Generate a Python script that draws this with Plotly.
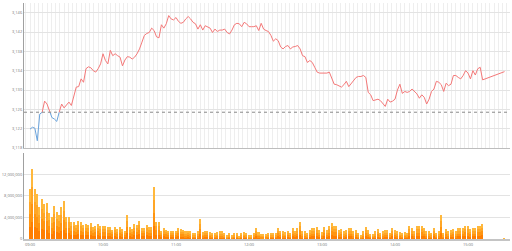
import pandas as pd
import plotly.graph_objects as go

# ---------------- data ----------------
prev_close = 3125.4

price = [
    3121.9, 3122.3, 3122.1, 3119.5, 3125.0, 3125.4, 3127.7, 3127.1, 3125.7, 3124.3,
    3124.0, 3123.5, 3125.4, 3127.1, 3126.3, 3126.8, 3127.5, 3126.8, 3128.5, 3130.6,
    3130.7, 3132.3, 3131.6, 3134.4, 3134.8, 3134.6, 3134.0, 3133.7, 3134.4, 3135.4,
    3137.5, 3136.1, 3135.4, 3138.2, 3137.1, 3137.5, 3137.1, 3136.8, 3135.0, 3136.2,
    3136.9, 3136.8, 3136.4, 3136.8, 3137.5, 3138.5, 3139.9, 3141.3, 3141.7, 3141.9,
    3142.8, 3142.3, 3141.0, 3140.8, 3143.5, 3142.8, 3143.7, 3145.4, 3144.7, 3144.5,
    3145.0, 3144.2, 3143.8, 3144.0, 3144.7,
    3145.2, 3144.7, 3144.0, 3143.7, 3142.6, 3143.5, 3142.4, 3143.3, 3143.1, 3142.8,
    3141.9, 3142.6, 3142.1, 3142.4, 3142.4, 3142.6, 3141.9, 3141.6, 3142.4, 3143.5,
    3143.8, 3143.7, 3143.1, 3144.0, 3143.7, 3143.1, 3143.1, 3143.1, 3143.3, 3142.3,
    3143.8, 3142.6, 3142.3, 3142.1, 3141.3, 3140.1, 3140.6, 3140.2, 3138.9, 3138.5,
    3139.0, 3139.2, 3138.5, 3138.9, 3139.0, 3139.2, 3138.5, 3137.1, 3136.9, 3135.7,
    3136.1, 3135.7, 3134.7, 3133.7, 3133.5, 3133.5, 3133.5, 3133.5, 3133.7, 3132.6,
    3131.2, 3131.1, 3130.9, 3130.6, 3131.1, 3131.8, 3130.7,
    3131.4, 3132.0, 3132.6, 3132.8, 3132.8, 3133.0, 3132.6, 3129.5, 3129.0, 3127.8,
    3127.9, 3128.1, 3127.8, 3127.1, 3126.6, 3128.1, 3127.5, 3127.7, 3128.1, 3130.0,
    3131.2, 3129.3, 3129.7, 3129.5, 3129.7, 3130.2, 3129.7, 3129.2, 3128.3, 3129.0,
    3128.5, 3127.1, 3128.1, 3129.7, 3130.2, 3131.8, 3131.6, 3131.1, 3129.7, 3131.4,
    3130.9, 3131.2, 3133.0, 3133.0, 3132.6, 3132.3, 3133.0, 3134.0, 3133.5, 3132.3,
    3134.0, 3133.1, 3134.4, 3134.7, 3132.1,
    3133.8,
]

volume_m = [
    9.2, 12.9, 9.2, 8.3, 6.0, 7.5, 6.5, 6.6, 4.8, 4.0,
    6.2, 5.0, 4.5, 5.9, 7.0, 4.1, 4.1, 3.1, 3.1, 2.6,
    3.4, 3.1, 2.6, 2.8, 2.6, 3.0, 2.2, 2.5, 2.8, 2.4,
    2.5, 2.5, 2.2, 2.2, 1.7, 2.2, 1.8, 2.2, 1.8, 1.5,
    4.5, 2.3, 1.8, 2.8, 2.6, 3.4, 2.1, 2.1, 2.6, 2.2,
    2.2, 9.6, 3.2, 3.2, 1.5, 2.0, 1.7, 1.5, 1.5, 1.5,
    1.5, 2.1, 1.8, 1.7,
    1.4, 1.5, 1.4, 1.1, 1.1, 1.4, 3.7, 1.3, 1.5, 1.5,
    1.3, 1.1, 1.1, 1.3, 1.4, 1.4, 1.1, 0.8, 1.1, 0.8,
    1.1, 1.1, 0.5, 1.1, 1.3, 1.1, 0.8, 0.7, 1.1, 2.0,
    1.3, 0.9, 0.9, 0.9, 1.1, 1.1, 1.1, 1.1, 2.1, 1.5,
    1.4, 1.3, 1.5, 1.1, 2.0, 1.5, 2.0,
    3.2, 1.4, 1.4, 1.1, 1.6, 2.0, 2.0, 2.2, 1.6, 1.3,
    2.2, 1.6, 2.4, 3.0, 2.5, 2.5, 1.6, 1.8, 1.4, 1.6,
    2.0, 2.0, 1.4, 1.6, 1.1, 0.8, 1.4, 2.2, 1.6, 1.0,
    1.0, 1.4, 1.8, 1.1, 1.4, 1.6, 1.6, 1.1, 2.0, 1.6,
    1.4, 1.3, 1.1, 1.3, 1.1, 2.4, 2.0, 1.4, 2.4, 2.4,
    2.5, 2.0, 1.4, 1.4, 1.1, 2.0, 1.1, 1.4, 4.4, 1.1,
    1.8, 1.4, 1.6, 1.8, 1.4, 2.0, 2.0, 2.0, 2.5, 2.4,
    1.8, 2.0, 2.0, 2.5, 2.5, 2.8,
    0.1,
]

session_start = "2024-01-02 09:00"
last_time = "2024-01-02 15:30"
n_regular = len(price) - 1
times = list(pd.date_range(session_start, periods=n_regular, freq="2min")) + [pd.Timestamp(last_time)]
volume = [v * 1e6 for v in volume_m]

price_ticks = [3118, 3122, 3126, 3130, 3134, 3138, 3142, 3146]
vol_ticks = [0, 4e6, 8e6, 12e6]

# ---------------- split line into above / below previous close ----------------
def split_segments(ts, ys, ref):
    segs = []
    cur_x, cur_y = [ts[0]], [ys[0]]
    cur_above = ys[0] >= ref
    for i in range(1, len(ys)):
        above = ys[i] >= ref
        if above != cur_above:
            f = (ref - ys[i - 1]) / (ys[i] - ys[i - 1])
            tc = ts[i - 1] + (ts[i] - ts[i - 1]) * f
            cur_x.append(tc); cur_y.append(ref)
            segs.append((cur_above, cur_x, cur_y))
            cur_x, cur_y = [tc], [ref]
            cur_above = above
        cur_x.append(ts[i]); cur_y.append(ys[i])
    segs.append((cur_above, cur_x, cur_y))
    return segs

fig = go.Figure()
for above, sx, sy in split_segments(times, price, prev_close):
    fig.add_trace(go.Scatter(
        x=sx, y=sy, mode="lines", xaxis="x", yaxis="y",
        line=dict(color="#f47878" if above else "#6aa3dc", width=1),
        hoverinfo="skip", showlegend=False))

# gradient-like bars: stacked slices from dark (bottom) to light (top)
shades = ["#ff7e00", "#ff9410", "#ffa626", "#ffb83c"]
for c in shades:
    fig.add_trace(go.Bar(
        x=times, y=[v / len(shades) for v in volume], xaxis="x2", yaxis="y2",
        marker=dict(color=c, line=dict(width=0)), showlegend=False, hoverinfo="skip"))

fig.add_shape(type="line", xref="x domain", yref="y", x0=0, x1=1,
              y0=prev_close, y1=prev_close,
              line=dict(color="#8a8a8a", width=1, dash="dot"))

xr = ["2024-01-02 08:55:04", "2024-01-02 15:34:30"]
font = dict(family="Open Sans, Arial", size=4, color="#777")

fig.update_layout(
    width=512, height=251,
    margin=dict(l=24, r=2, t=3, b=12),
    paper_bgcolor="white", plot_bgcolor="white",
    barmode="stack", bargap=0.38,
    font=font,
    xaxis=dict(domain=[0, 1], anchor="y", range=xr, type="date",
               showticklabels=False, ticks="",
               showgrid=True, gridcolor="#eeeeee", gridwidth=1,
               dtick=210000, tick0="2024-01-02 09:00",
               showline=True, linecolor="#bdbdbd", linewidth=1, zeroline=False),
    yaxis=dict(domain=[0.3856, 1], anchor="x", range=[3118, 3148],
               tickvals=price_ticks, tickformat=",.0f",
               showgrid=True, gridcolor="#e3e3e3", gridwidth=1,
               showline=True, linecolor="#a0a0a0", linewidth=1,
               ticks="", zeroline=False, tickfont=font),
    xaxis2=dict(domain=[0, 1], anchor="y2", range=xr, type="date",
                tickformat="%H:%M", dtick=3600000, tick0="2024-01-02 09:00",
                showgrid=False, ticks="",
                showline=True, linecolor="#c4c4c4", linewidth=2,
                zeroline=False, tickfont=font),
    yaxis2=dict(domain=[0, 0.3658], anchor="x2", range=[0, 16e6],
                tickvals=vol_ticks, tickformat=",.0f",
                showgrid=True, gridcolor="#e3e3e3", gridwidth=1,
                showline=True, linecolor="#a0a0a0", linewidth=1,
                ticks="", zeroline=False, tickfont=font),
)

fig.write_html("out.html")
